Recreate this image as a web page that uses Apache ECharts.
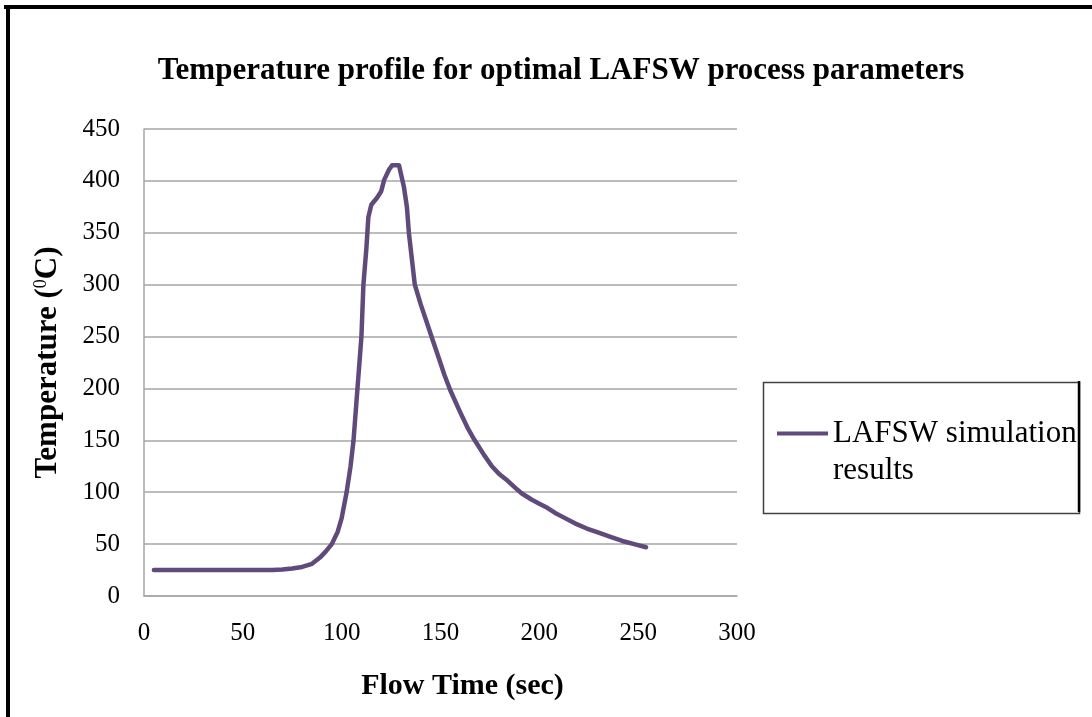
<!DOCTYPE html>
<html>
<head>
<meta charset="utf-8">
<script src="https://cdn.jsdelivr.net/npm/echarts@6/dist/echarts.min.js"></script>
<style>
html,body{margin:0;padding:0;background:#fff;}
#chart{width:1092px;height:717px;}
</style>
</head>
<body>
<div id="chart"></div>
<script>
// ---- data ----
const chartTitle = 'Temperature profile for optimal LAFSW process parameters';
const seriesName = 'LAFSW simulation results';
const xAxisTitle = 'Flow Time (sec)';
const flowTime = [5, 10, 20, 30, 40, 50, 60, 65, 70, 75, 80, 85, 89, 92, 95, 98, 100, 102.5, 104.5, 106, 107, 108, 109, 110, 111, 112.5, 113.5, 115, 118, 120, 121.5, 124, 125.5, 129, 131.5, 133, 134, 137, 140, 143, 146, 149, 152, 155, 160, 164, 167, 172, 176, 180, 184, 188, 191, 196, 200, 204, 208, 212, 218, 224, 230, 236, 242, 248, 254];
const temperature = [25, 25, 25, 25, 25, 25, 25, 25, 25.5, 26.5, 28, 31, 37, 43, 50, 62, 75, 100, 125, 150, 175, 200, 225, 250, 300, 335, 365, 377, 384, 390, 401, 411, 415, 415, 394, 375, 350, 300, 281, 264, 247, 230, 213, 198, 177, 161, 151, 136, 125, 117, 111, 104, 99, 93, 89, 85, 80, 76, 70, 65, 61, 57, 53, 50, 47];
const xTicks = {min: 0, max: 300, interval: 50};
const yTicks = {min: 0, max: 450, interval: 50};

const points = flowTime.map((t, i) => [t, temperature[i]]);
const serif = "'Liberation Serif', 'Times New Roman', serif";

const chart = echarts.init(document.getElementById('chart'), null, {renderer: 'canvas'});
chart.setOption({
  backgroundColor: '#ffffff',
  animation: false,
  title: {
    text: chartTitle,
    left: 556, textAlign: 'center',
    top: 50,
    textStyle: {fontFamily: serif, fontSize: 31, fontWeight: 'bold', color: '#000'}
  },
  legend: {
    left: 777, top: 375, padding: 0,
    itemWidth: 51, itemHeight: 14,
    icon: 'path://M0,5 L51,5 L51,9 L0,9 Z',
    data: [seriesName],
    formatter: () => '\nLAFSW simulation\nresults',
    textStyle: {fontFamily: serif, fontSize: 31, color: '#000', lineHeight: 37, padding: [6,0,0,0]}
  },
  grid: {left: 144, top: 129, right: 355, bottom: 121},
  xAxis: {
    type: 'value', min: xTicks.min, max: xTicks.max, interval: xTicks.interval,
    name: xAxisTitle, nameLocation: 'middle', nameGap: 75,
    nameTextStyle: {fontFamily: serif, fontSize: 30, fontWeight: 'bold', color: '#000', padding: [0,0,0,44]},
    axisLine: {show: true, lineStyle: {color: '#a6a6a6', width: 1.5}},
    axisTick: {show: false},
    splitLine: {show: false},
    axisLabel: {fontFamily: serif, fontSize: 25, color: '#000', margin: 25}
  },
  yAxis: {
    type: 'value', min: yTicks.min, max: yTicks.max, interval: yTicks.interval,
    name: '{a|Temperature (}{s|0}{a|C)}', nameLocation: 'middle', nameGap: 81, nameRotate: 90,
    nameTextStyle: {
      rich: {
        a: {fontFamily: serif, fontSize: 31, fontWeight: 'bold', color: '#000'},
        s: {fontFamily: serif, fontSize: 18, color: '#000', verticalAlign: 'top', padding: [0,0,10,0]}
      }
    },
    axisLine: {show: true, lineStyle: {color: '#a6a6a6', width: 1.5}},
    axisTick: {show: false},
    splitLine: {show: true, lineStyle: {color: '#a6a6a6', width: 1.5}},
    axisLabel: {fontFamily: serif, fontSize: 25, color: '#000', margin: 24}
  },
  series: [{
    name: seriesName,
    type: 'line',
    data: points,
    showSymbol: false,
    symbol: 'none',
    smooth: false,
    lineStyle: {color: '#604A7B', width: 4.5, cap: 'round', join: 'round'},
    itemStyle: {color: '#604A7B'}
  }],
  graphic: [
    {type: 'line', shape: {x1: 4, y1: 7, x2: 1092, y2: 7}, style: {stroke: '#000', lineWidth: 4}, z: 100},
    {type: 'line', shape: {x1: 8, y1: 5, x2: 8, y2: 717}, style: {stroke: '#000', lineWidth: 4}, z: 100},
    {type: 'rect', shape: {x: 763.5, y: 382.5, width: 316, height: 131}, style: {fill: 'none', stroke: '#404040', lineWidth: 1.5}, z: 0},
    {type: 'line', shape: {x1: 1079, y1: 381, x2: 1079, y2: 512}, style: {stroke: '#000', lineWidth: 2.5}, z: 100}
  ]
});
</script>
</body>
</html>
